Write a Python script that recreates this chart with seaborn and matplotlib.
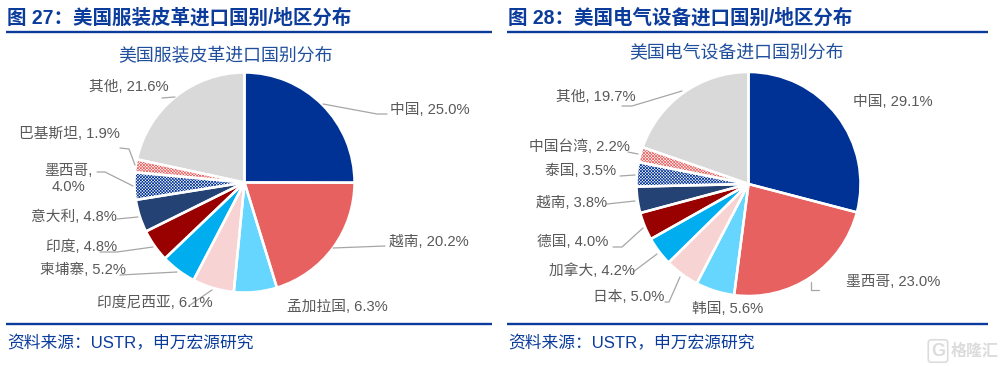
import matplotlib
matplotlib.use("Agg")
import matplotlib.pyplot as plt
import seaborn as sns

# chart data
countries_left = ["中国", "越南", "孟加拉国", "印度尼西亚", "柬埔寨", "印度", "意大利", "墨西哥", "巴基斯坦", "其他"]
shares_left = [25.0, 20.2, 6.3, 6.1, 5.2, 4.8, 4.8, 4.0, 1.9, 21.6]
countries_right = ["中国", "墨西哥", "韩国", "日本", "加拿大", "德国", "越南", "泰国", "中国台湾", "其他"]
shares_right = [29.1, 23.0, 5.6, 5.0, 4.2, 4.0, 3.8, 3.5, 2.2, 19.7]

slice_colors = ["#003296", "#E86161", "#66D6FF", "#F8D3D3", "#00AEEF",
                "#990000", "#254274", "#003296", "#E86161", "#D9D9D9"]
slice_hatches = [None, None, None, None, None, None, None, "x" * 11, "x" * 11, None]

# label centres and leader lines, in pixels from the top left
label_pos_left = [(430, 110), (429, 242), (337, 307), (155, 303), (83, 270),
                  (82, 247), (74, 217), (68, 179), (69, 134), (129, 87)]
leaders_left = [[(323, 104), (377, 114), (387, 114)], [(333, 248), (385, 246)], None,
                [(212, 290), (190, 305)], [(177, 272), (120, 275)],
                [(153, 247), (117, 252), (100, 252)], [(138, 217), (117, 219)],
                [(133, 186), (105, 172), (97, 172)], [(135, 165), (129, 149), (120, 148)],
                [(175, 97), (162, 98)]]
label_pos_right = [(893, 102), (893, 282), (728, 309), (629, 297), (592, 271),
                   (573, 242), (572, 203), (581, 171), (579, 147), (596, 97)]
leaders_right = [None, [(811, 282), (811, 290), (819, 290)], None,
                 [(680, 277), (669, 302), (665, 302)], [(657, 254), (633, 272)],
                 [(643, 228), (622, 247), (613, 247)], [(635, 201), (607, 204)],
                 [(635, 175), (620, 176)], [(638, 154), (628, 152)],
                 [(682, 91), (632, 106), (622, 106)]]

W, H = 1000, 366
NAVY = "#0B3C9C"
GREY = "#595959"

sns.set_theme(style="white")
plt.rcParams["font.family"] = ["Liberation Sans", "Noto Sans CJK SC", "DejaVu Sans"]
plt.rcParams["hatch.linewidth"] = 0.5

fig = plt.figure(figsize=(W / 100, H / 100), dpi=100)
ax = fig.add_axes([0, 0, 1, 1])


def py(y):
    return H - y


def draw_pie(shares, names, positions, leaders, cx, cy, radius):
    palette = sns.color_palette(slice_colors)
    wedges, _ = ax.pie(shares, colors=palette, startangle=90, counterclock=False,
                       center=(cx, py(cy)), radius=radius, frame=True,
                       wedgeprops=dict(linewidth=0))
    for w, c, h in zip(wedges, palette, slice_hatches):
        if h:
            w.set_facecolor("white")
            w.set_edgecolor(c)
            w.set_hatch(h)
    # white gaps between slices go on top of the hatching
    ax.pie(shares, colors=["none"] * len(shares), startangle=90, counterclock=False,
           center=(cx, py(cy)), radius=radius, frame=True,
           wedgeprops=dict(linewidth=1.8, edgecolor="white"))
    for name, val, pos, line in zip(names, shares, positions, leaders):
        sep = ",\n" if name == "墨西哥" and cx < 500 else ", "
        ax.text(pos[0], py(pos[1]), f"{name}{sep}{val:.1f}%", fontsize=10.6, color=GREY,
                ha="center", va="center", linespacing=1.2, zorder=5)
        if line:
            ax.plot([p[0] for p in line], [py(p[1]) for p in line],
                    color="#A6A6A6", lw=0.9, zorder=4)


draw_pie(shares_left, countries_left, label_pos_left, leaders_left, 244.5, 182.5, 110)
draw_pie(shares_right, countries_right, label_pos_right, leaders_right, 748.5, 184, 112)

ax.set_xlim(0, W)
ax.set_ylim(0, H)
ax.set_aspect("equal")
ax.axis("off")

# panel furniture
for x0, x1, no, name, tx, title, ty in [
    (6, 492, 27, "美国服装皮革", 226, "美国服装皮革进口国别分布", 56),
    (507, 988, 28, "美国电气设备", 737, "美国电气设备进口国别分布", 53),
]:
    ax.plot([x0, x1], [py(32), py(32)], color=NAVY, lw=1.7, solid_capstyle="butt")
    ax.plot([x0, x1], [py(324), py(324)], color=NAVY, lw=1.7, solid_capstyle="butt")
    ax.text(x0 + 1, py(18), f"图 {no}：{name}进口国别/地区分布", fontsize=14.05,
            fontweight="bold", color=NAVY, ha="left", va="center")
    ax.text(tx, py(ty), title, fontsize=12.9, color="#1F4E9C", ha="center", va="center")
    ax.text(x0 + 1, py(343), "资料来源：USTR，申万宏源研究", fontsize=12.1,
            color=NAVY, ha="left", va="center")

# watermark
ax.text(938, py(351), "G", fontsize=13, fontweight="bold", color="#DCDCDC", ha="center", va="center",
        bbox=dict(boxstyle="round,pad=0.15", fc="none", ec="#DCDCDC", lw=1.2))
ax.text(975, py(351), "格隆汇", fontsize=11.5, fontweight="bold", color="#DCDCDC", ha="center", va="center")

fig.savefig("out.png", dpi=100)
